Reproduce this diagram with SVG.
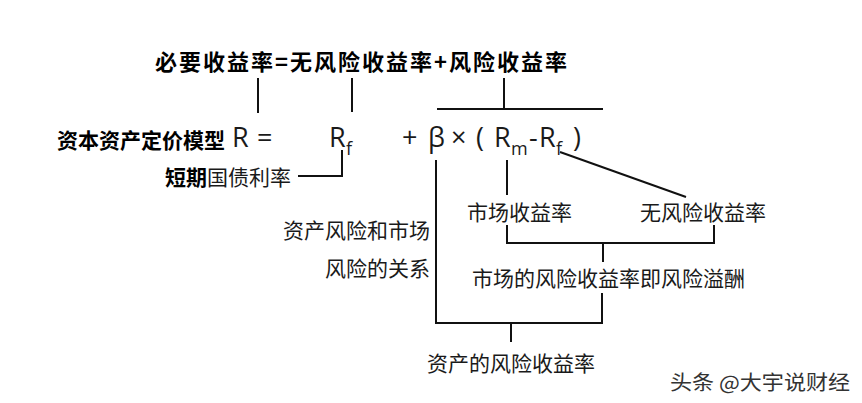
<svg xmlns="http://www.w3.org/2000/svg" width="862" height="403" viewBox="0 0 862 403">
<style>
.cn{font-family:"Noto Sans CJK SC","Noto Sans",sans-serif;font-size:21px;fill:#1a1a1a}
.b{font-weight:bold;fill:#000}
.f{font-family:"Open Sans","Liberation Sans",sans-serif;font-size:27px;fill:#1a1a1a}
.s{font-family:"Open Sans","Liberation Sans",sans-serif;font-size:18px;fill:#1a1a1a}
.ln{fill:none;stroke:#111;stroke-width:2}
</style>
<rect width="862" height="403" fill="#fff"/>
<g id="title"><text class="cn b" x="155" y="70" style="font-size:22px" textLength="412" lengthAdjust="spacing">必要收益率=无风险收益率+风险收益率</text></g>
<g id="capm">
<text class="cn b" x="57" y="148">资本资产定价模型</text>
<text class="f" x="232" y="147">R</text>
<text class="f" x="257" y="147">=</text>
</g>
<g id="rf"><text class="f" x="329" y="147">R</text><text class="s" x="346" y="155">f</text></g>
<g id="formula">
<text class="f" x="402" y="147">+</text>
<text class="f" x="428" y="147">β</text>
<text class="f" x="451" y="147">×</text>
<text class="f" x="476" y="147">(</text>
<text class="f" x="494" y="147">R</text>
<text class="s" x="511" y="155">m</text>
<text class="f" x="529" y="147">-</text>
<text class="f" x="539" y="147">R</text>
<text class="s" x="556" y="155">f</text>
<text class="f" x="573" y="147">)</text>
</g>
<g id="short"><text class="cn" x="165" y="185"><tspan class="b">短期</tspan>国债利率</text></g>
<g id="mkt"><text class="cn" x="467" y="220">市场收益率</text></g>
<g id="riskfree"><text class="cn" x="640" y="220">无风险收益率</text></g>
<g id="rel"><text class="cn" x="430" y="238" text-anchor="end">资产风险和市场</text><text class="cn" x="430" y="276" text-anchor="end">风险的关系</text></g>
<g id="premium"><text class="cn" x="472" y="286">市场的风险收益率即风险溢酬</text></g>
<g id="asset"><text class="cn" x="427" y="371">资产的风险收益率</text></g>
<g id="watermark"><text x="670" y="390" textLength="180" lengthAdjust="spacingAndGlyphs" style="font-family:'Noto Sans CJK SC',sans-serif;font-size:20px;fill:#333;stroke:#fff;stroke-width:0.5;paint-order:stroke">头条 @大宇说财经</text></g>
<g id="connectors" class="ln">
<path d="M258,78V113"/>
<path d="M352,78V112"/>
<path d="M504,78V109M437,109H603"/>
<path d="M298,176H342V150"/>
<path d="M436,160V323H602V293"/>
<path d="M507,160V195"/>
<path d="M560,152L686,197"/>
<path d="M507,225V243H714V225M603,243V262"/>
<path d="M511,323V342"/>
</g>
</svg>
